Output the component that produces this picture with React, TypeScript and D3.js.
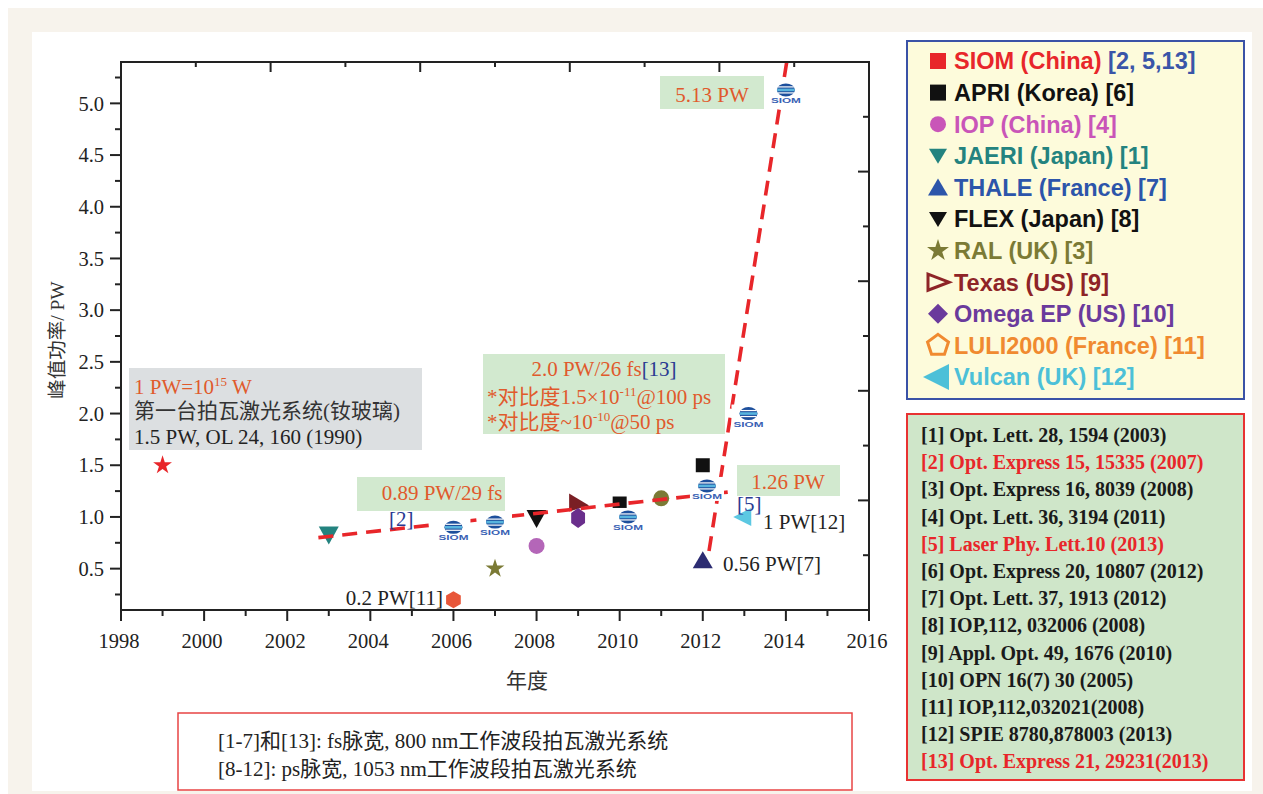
import React from "react";
import * as d3 from "d3";

// ---------- data ----------
const siomYears = [2006, 2007, 2010.2, 2012.1, 2013.1, 2014.0];
const siomPower = [0.9, 0.95, 1.0, 1.3, 2.0, 5.13];

const pointYears = [1999, 2003, 2006, 2007, 2008, 2008, 2009, 2009, 2010, 2011, 2012, 2012, 2012.95];
const pointPower = [1.5, 0.83, 0.2, 0.5, 0.99, 0.72, 1.13, 0.99, 1.13, 1.18, 1.5, 0.58, 1.0];
const pointShapes = ["star", "triDown", "hexagon", "star", "triDown", "circle", "triRight", "hexTall", "square", "circle", "square", "triUp", "triLeft"];
const pointColors = ["#e8262a", "#23837f", "#e8573a", "#7b7a35", "#111111", "#b466b8", "#7a1f24", "#6a2f8c", "#111111", "#7b7a35", "#111111", "#2c2c72", "#5cc8e2"];

const trend1Years = [2002.75, 2012.6];
const trend1Power = [0.8, 1.24];
const trend2Years = [2012.15, 2014.02];
const trend2Power = [0.67, 5.4];

const xMajor = d3.range(1998, 2017, 2);
const xMinor = d3.range(1999, 2016, 2);
const yMajor = [0.5, 1.0, 1.5, 2.0, 2.5, 3.0, 3.5, 4.0, 4.5, 5.0];
const yMinor = [0.25, 0.75, 1.25, 1.75, 2.25, 2.75, 3.25, 3.75, 4.25, 4.75, 5.25];
const frameTicks = d3.range(1, 10);

const legendNames = ["SIOM (China)", "APRI (Korea)", "IOP (China)", "JAERI (Japan)", "THALE (France)", "FLEX (Japan)", "RAL (UK)", "Texas (US)", "Omega EP (US)", "LULI2000 (France)", "Vulcan (UK)"];
const legendRefs = ["[2, 5,13]", "[6]", "[4]", "[1]", "[7]", "[8]", "[3]", "[9]", "[10]", "[11]", "[12]"];
const legendColors = ["#e8262a", "#111111", "#c955b8", "#23837f", "#2c55aa", "#111111", "#7b7a35", "#8e2427", "#6a3a9c", "#f08a30", "#4cc0d8"];
const legendShapes = ["square", "square", "circle", "triDown", "triUp", "triDown", "star", "triRightOpen", "diamond", "pentagonOpen", "triLeftBig"];

const refTexts = [
  "[1] Opt. Lett. 28, 1594 (2003)",
  "[2] Opt. Express 15, 15335 (2007)",
  "[3] Opt. Express 16, 8039 (2008)",
  "[4] Opt. Lett. 36, 3194 (2011)",
  "[5] Laser Phy. Lett.10 (2013)",
  "[6] Opt. Express 20, 10807 (2012)",
  "[7] Opt. Lett. 37, 1913 (2012)",
  "[8] IOP,112, 032006 (2008)",
  "[9] Appl. Opt. 49, 1676 (2010)",
  "[10] OPN 16(7) 30 (2005)",
  "[11] IOP,112,032021(2008)",
  "[12] SPIE 8780,878003 (2013)",
  "[13] Opt. Express 21, 29231(2013)",
];
const refHighlighted = [false, true, false, false, true, false, false, false, false, false, false, false, true];

const noteLines = [
  "[1-7]和[13]: fs脉宽, 800 nm工作波段拍瓦激光系统",
  "[8-12]: ps脉宽, 1053 nm工作波段拍瓦激光系统",
];

// ---------- styling ----------
const SERIF = "'Liberation Serif', 'Times New Roman', 'Noto Sans CJK SC', serif";
const SANS = "'Liberation Sans', Arial, 'Noto Sans CJK SC', sans-serif";
const RED = "#e8262a";
const ANN = "#e05a2c";
const NAVY = "#2a3a92";
const GREEN_BOX = "#d2e9cf";
const ANN_FS = 21;

const L = 121, R = 869, T = 62, B = 610;
const x = d3.scaleLinear().domain([1998, 2016]).range([L, R]);
const y = d3.scaleLinear().domain([0.1, 5.4]).range([B, T]);
const topS = d3.scaleLinear().domain([0, 10]).range([L, R]);
const rightS = d3.scaleLinear().domain([0, 10]).range([B, T]);

function poly(pts: [number, number][]) {
  return "M" + pts.map((p) => p[0].toFixed(2) + "," + p[1].toFixed(2)).join("L") + "Z";
}
function regular(n: number, rx: number, ry: number, start: number) {
  const pts: [number, number][] = [];
  for (let i = 0; i < n; i++) {
    const a = start + (i * 2 * Math.PI) / n;
    pts.push([rx * Math.cos(a), ry * Math.sin(a)]);
  }
  return poly(pts);
}
function shapePath(shape: string): string {
  switch (shape) {
    case "star":
      return d3.symbol(d3.symbolStar, 110)() as string;
    case "square":
      return d3.symbol(d3.symbolSquare, 196)() as string;
    case "circle":
      return d3.symbol(d3.symbolCircle, Math.PI * 64)() as string;
    case "triDown":
      return poly([[-10, -8], [10, -8], [0, 10]]);
    case "triUp":
      return poly([[-10, 8], [10, 8], [0, -9]]);
    case "triRight":
      return poly([[-9, -10], [11, 2], [-9, 8]]);
    case "triLeft":
      return poly([[9, -9], [9, 9], [-9, 0]]);
    case "hexagon":
      return regular(6, 8.5, 8.5, -Math.PI / 2);
    case "hexTall":
      return regular(6, 8, 10, -Math.PI / 2);
    default:
      return "";
  }
}
function legendPath(shape: string): string {
  switch (shape) {
    case "square":
      return poly([[-8, -8], [8, -8], [8, 8], [-8, 8]]);
    case "circle":
      return d3.symbol(d3.symbolCircle, Math.PI * 64)() as string;
    case "triDown":
      return poly([[-9, -7], [9, -7], [0, 8]]);
    case "triUp":
      return poly([[-10, 8], [10, 8], [0, -9]]);
    case "star":
      return d3.symbol(d3.symbolStar, 150)() as string;
    case "triRightOpen":
      return poly([[-10, -8], [11, 0], [-10, 8]]);
    case "diamond":
      return poly([[0, -10], [10, 0], [0, 10], [-10, 0]]);
    case "pentagonOpen":
      return regular(5, 11, 11, -Math.PI / 2);
    case "triLeftBig":
      return poly([[13, -13], [13, 13], [-13, 0]]);
    default:
      return "";
  }
}

function SiomLogo({ cx, cy }: { cx: number; cy: number }) {
  const hw = 9 * Math.sqrt(1 - (3 / 6.5) ** 2);
  return (
    <g transform={`translate(${cx},${cy})`}>
      <rect x={-17} y={-9} width={34} height={24} fill="#ffffff" />
      <ellipse rx={9} ry={6.5} fill="#1d4f9c" />
      <rect x={-8.7} y={-1.3} width={17.4} height={2.6} fill="#58b4de" />
      <line x1={-hw} x2={hw} y1={-3} y2={-3} stroke="#ffffff" strokeWidth={1.2} />
      <line x1={-hw} x2={hw} y1={3} y2={3} stroke="#ffffff" strokeWidth={1.2} />
      <text
        y={13}
        textAnchor="middle"
        fontFamily={SANS}
        fontWeight="bold"
        fontSize={7.5}
        fill="#3a62b4"
        textLength={30}
        lengthAdjust="spacingAndGlyphs"
      >
        SIOM
      </text>
    </g>
  );
}

export default function App() {
  const trendPath = (ys: number[], ps: number[]) =>
    d3
      .line<number>()
      .x((d) => x(d))
      .y((_, i) => y(ps[i]))(ys) as string;

  return (
    <div style={{ position: "fixed", left: 0, top: 0 }}>
      <svg width={1263} height={794} style={{ display: "block" }}>
        <defs>
          <clipPath id="plotClip">
            <rect x={L} y={T} width={R - L} height={B - T} />
          </clipPath>
        </defs>
        <rect x={0} y={0} width={1263} height={794} fill="#ffffff" />
        <rect x={8} y={8} width={1255} height={786} fill="#f7f3ec" />
        <rect x={32} y={32} width={1220} height={759} fill="#ffffff" />

        {/* annotation boxes (behind data) */}
        <rect x={129} y={368} width={293} height={82} fill="#dcdfe1" />
        <rect x={357} y={477} width={148} height={34} fill={GREEN_BOX} />
        <rect x={483} y={354} width={242} height={80} fill={GREEN_BOX} />
        <rect x={737} y={465} width={103} height={31} fill={GREEN_BOX} />
        <rect x={660} y={76} width={104} height={33} fill={GREEN_BOX} />

        {/* points */}
        {pointYears.map((yr, i) => (
          <path
            key={"p" + i}
            transform={`translate(${x(yr)},${y(pointPower[i])})`}
            d={shapePath(pointShapes[i])}
            fill={pointColors[i]}
          />
        ))}

        {/* trend lines */}
        <g clipPath="url(#plotClip)">
          <path d={trendPath(trend1Years, trend1Power)} fill="none" stroke={RED} strokeWidth={3.6} strokeDasharray="15 9" />
          <path d={trendPath(trend2Years, trend2Power)} fill="none" stroke={RED} strokeWidth={3.6} strokeDasharray="15 9" />
        </g>

        {/* SIOM logos */}
        {siomYears.map((yr, i) => (
          <SiomLogo key={"s" + i} cx={x(yr)} cy={y(siomPower[i])} />
        ))}

        {/* frame */}
        <rect x={L} y={T} width={R - L} height={B - T} fill="none" stroke="#222" strokeWidth={2} />
        {xMajor.map((v) => (
          <line key={"xM" + v} x1={x(v)} x2={x(v)} y1={B} y2={B + 11} stroke="#222" strokeWidth={2} />
        ))}
        {xMinor.map((v) => (
          <line key={"xm" + v} x1={x(v)} x2={x(v)} y1={B} y2={B + 6} stroke="#222" strokeWidth={2} />
        ))}
        {xMajor.map((v) => (
          <text key={"xl" + v} x={x(v) - 2} y={648} textAnchor="middle" fontFamily={SERIF} fontSize={20.5} fill="#222">
            {v}
          </text>
        ))}
        {yMajor.map((v) => (
          <line key={"yM" + v} x1={L - 11} x2={L} y1={y(v)} y2={y(v)} stroke="#222" strokeWidth={2} />
        ))}
        {yMinor.map((v) => (
          <line key={"ym" + v} x1={L - 6} x2={L} y1={y(v)} y2={y(v)} stroke="#222" strokeWidth={2} />
        ))}
        {yMajor.map((v) => (
          <text key={"yl" + v} x={104} y={y(v)} dy="0.35em" textAnchor="end" fontFamily={SERIF} fontSize={20.5} fill="#222">
            {v.toFixed(1)}
          </text>
        ))}
        {frameTicks.map((k) => (
          <line key={"tt" + k} x1={topS(k)} x2={topS(k)} y1={T} y2={T + (k % 2 === 0 ? 10 : 5)} stroke="#222" strokeWidth={2} />
        ))}
        {frameTicks.map((k) => (
          <line key={"rt" + k} x1={R - (k % 2 === 0 ? 11 : 6)} x2={R} y1={rightS(k)} y2={rightS(k)} stroke="#222" strokeWidth={2} />
        ))}

        {/* axis titles */}
        <text transform="translate(64,340) rotate(-90)" textAnchor="middle" fontFamily={SERIF} fontSize={19.5} fill="#333">
          峰值功率/ PW
        </text>
        <text x={527} y={688} textAnchor="middle" fontFamily={SERIF} fontSize={21} fill="#333">
          年度
        </text>

        {/* annotations */}
        <g fontFamily={SERIF} fontSize={ANN_FS}>
          <text x={134} y={394} fill={ANN}>
            1 PW=10
            <tspan fontSize={13} dy={-8}>
              15
            </tspan>
            <tspan dy={8}> W</tspan>
          </text>
          <text x={134} y={418} fill="#333">
            第一台拍瓦激光系统(钕玻璃)
          </text>
          <text x={134} y={444} fill="#222">
            1.5 PW, OL 24, 160 (1990)
          </text>

          <text x={442} y={500} textAnchor="middle" fill={ANN}>
            0.89 PW/29 fs
          </text>
          <text x={389} y={526} fill={NAVY}>
            [2]
          </text>
          <text x={443} y={605} textAnchor="end" fill="#222">
            0.2 PW[11]
          </text>

          <text x={604} y={376} textAnchor="middle" fill={ANN}>
            2.0 PW/26 fs<tspan fill={NAVY}>[13]</tspan>
          </text>
          <text x={487} y={404} fill={ANN}>
            *对比度1.5×10
            <tspan fontSize={13} dy={-8}>
              -11
            </tspan>
            <tspan dy={8}>@100 ps</tspan>
          </text>
          <text x={487} y={429} fill={ANN}>
            *对比度~10
            <tspan fontSize={13} dy={-8}>
              -10
            </tspan>
            <tspan dy={8}>@50 ps</tspan>
          </text>

          <text x={788} y={489} textAnchor="middle" fill={ANN}>
            1.26 PW
          </text>
          <text x={737} y={511} fill={NAVY}>
            [5]
          </text>
          <text x={763} y={529} fill="#222">
            1 PW[12]
          </text>
          <text x={723} y={571} fill="#222">
            0.56 PW[7]
          </text>
          <text x={712} y={102} textAnchor="middle" fill={ANN}>
            5.13 PW
          </text>
        </g>

        {/* legend box */}
        <rect x={907} y={41} width={337} height={358} fill="#fdfbdb" stroke="#3a52a6" strokeWidth={2} />
        {legendNames.map((name, i) => {
          const cy = 61 + 31.6 * i;
          const shape = legendShapes[i];
          const open = shape.endsWith("Open");
          return (
            <g key={"lg" + i}>
              <path
                transform={`translate(${shape === "triLeftBig" ? 936 : 938},${cy})`}
                d={legendPath(shape)}
                fill={open ? "none" : legendColors[i]}
                stroke={open ? legendColors[i] : "none"}
                strokeWidth={open ? 3 : 0}
              />
              <text x={954} y={cy} dy="0.36em" fontFamily={SANS} fontWeight="bold" fontSize={23.5} fill={legendColors[i]}>
                {name} <tspan fill={i === 0 ? "#3a55a8" : legendColors[i]}>{legendRefs[i]}</tspan>
              </text>
            </g>
          );
        })}

        {/* references box */}
        <rect x={907} y={414} width={337} height={366} fill="#cfe6c9" stroke="#e83232" strokeWidth={2} />
        {refTexts.map((t, i) => (
          <text
            key={"rf" + i}
            x={921}
            y={442 + 27.2 * i}
            fontFamily={SERIF}
            fontWeight="bold"
            fontSize={20}
            fill={refHighlighted[i] ? RED : "#1a1a1a"}
          >
            {t}
          </text>
        ))}

        {/* bottom note */}
        <rect x={178} y={713} width={674} height={77} fill="#ffffff" stroke="#e84444" strokeWidth={1.5} />
        {noteLines.map((t, i) => (
          <text key={"nt" + i} x={218} y={748 + 28 * i} fontFamily={SERIF} fontSize={21} fill="#222">
            {t}
          </text>
        ))}
      </svg>
    </div>
  );
}
